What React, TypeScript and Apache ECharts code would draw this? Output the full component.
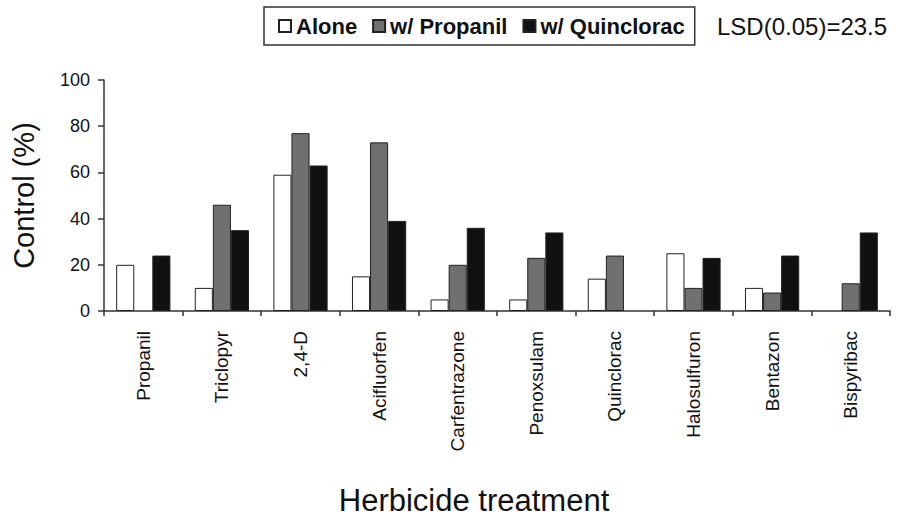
import React, { useEffect, useRef } from "react";
import * as echarts from "echarts";

const categories = [
  "Propanil",
  "Triclopyr",
  "2,4-D",
  "Acifluorfen",
  "Carfentrazone",
  "Penoxsulam",
  "Quinclorac",
  "Halosulfuron",
  "Bentazon",
  "Bispyribac",
];
const alone = [20, 10, 59, 15, 5, 5, 14, 25, 10, 0];
const withPropanil = [0, 46, 77, 73, 20, 23, 24, 10, 8, 12];
const withQuinclorac = [24, 35, 63, 39, 36, 34, 0, 23, 24, 34];
const seriesNames = ["Alone", "w/ Propanil", "w/ Quinclorac"];
const yTicks = { min: 0, max: 100, interval: 20 };
const lsdText = "LSD(0.05)=23.5";

const FONT = "'Liberation Sans', Arial, sans-serif";

export default function App() {
  const ref = useRef<HTMLDivElement>(null);
  useEffect(() => {
    if (!ref.current) return;
    const chart = echarts.init(ref.current, null, { renderer: "svg" });
    const barStyle = (fill: string) => ({
      color: fill,
      borderColor: "#222",
      borderWidth: 1,
    });
    const toData = (arr: number[]) =>
      arr.map((v) =>
        v === 0 ? { value: v, itemStyle: { borderWidth: 0, opacity: 0 } } : v
      );
    chart.setOption({
      animation: false,
      backgroundColor: "#ffffff",
      textStyle: { fontFamily: FONT },
      grid: {
        left: 104,
        right: 8,
        top: 80,
        bottom: 211,
        containLabel: false,
        outerBoundsMode: "none",
      },
      legend: {
        data: seriesNames,
        left: 264,
        top: 7,
        orient: "horizontal",
        icon: "rect",
        itemWidth: 12,
        itemHeight: 12,
        itemGap: 15,
        padding: [8, 10, 8, 14],
        borderColor: "#333",
        borderWidth: 1.5,
        textStyle: {
          fontFamily: FONT,
          fontSize: 22,
          fontWeight: "bold",
          color: "#111",
        },
      },
      graphic: [
        {
          type: "text",
          left: 717,
          top: 14,
          style: {
            text: lsdText,
            fontFamily: FONT,
            fontSize: 24,
            fill: "#111",
          },
        },
      ],
      xAxis: {
        type: "category",
        data: categories,
        name: "Herbicide treatment",
        nameLocation: "middle",
        nameGap: 174,
        nameTextStyle: {
          fontFamily: FONT,
          fontSize: 31,
          color: "#111",
          padding: [0, 46, 0, 0],
        },
        axisLine: { lineStyle: { color: "#333", width: 1.5 } },
        axisTick: {
          show: true,
          inside: false,
          length: 5,
          lineStyle: { color: "#333", width: 1.5 },
        },
        axisLabel: {
          rotate: 90,
          margin: 20,
          fontFamily: FONT,
          fontSize: 19,
          color: "#111",
          interval: 0,
        },
      },
      yAxis: {
        type: "value",
        min: yTicks.min,
        max: yTicks.max,
        interval: yTicks.interval,
        name: "Control (%)",
        nameLocation: "middle",
        nameGap: 66,
        nameTextStyle: { fontFamily: FONT, fontSize: 29, color: "#111" },
        splitLine: { show: false },
        axisLine: { show: true, lineStyle: { color: "#333", width: 1.5 } },
        axisTick: {
          show: true,
          inside: false,
          length: 6,
          lineStyle: { color: "#333", width: 1.5 },
        },
        axisLabel: {
          margin: 14,
          fontFamily: FONT,
          fontSize: 18,
          color: "#111",
        },
      },
      series: [
        {
          name: seriesNames[0],
          type: "bar",
          data: toData(alone),
          barGap: "0%",
          barCategoryGap: "31%",
          itemStyle: barStyle("#ffffff"),
        },
        {
          name: seriesNames[1],
          type: "bar",
          data: toData(withPropanil),
          barGap: "0%",
          barCategoryGap: "31%",
          itemStyle: barStyle("#707070"),
        },
        {
          name: seriesNames[2],
          type: "bar",
          data: toData(withQuinclorac),
          barGap: "0%",
          barCategoryGap: "31%",
          itemStyle: barStyle("#111111"),
        },
      ],
    });
    return () => chart.dispose();
  }, []);
  return (
    <div
      ref={ref}
      style={{ position: "fixed", left: 0, top: 0, width: 898, height: 522 }}
    />
  );
}
